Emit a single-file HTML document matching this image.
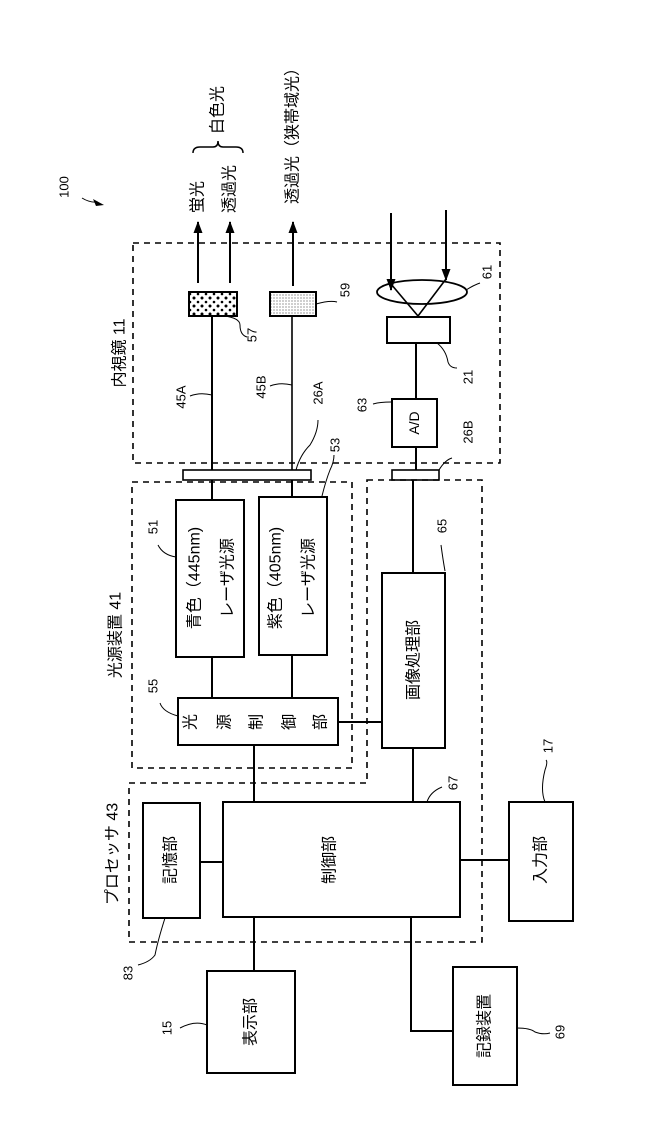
<!DOCTYPE html>
<html><head><meta charset="utf-8"><style>
html,body{margin:0;padding:0;background:#fff}
svg{display:block}
text{font-family:"Liberation Sans","Noto Sans CJK JP",sans-serif;fill:#000}
</style></head><body>
<svg width="661" height="1146" viewBox="0 0 661 1146" xmlns="http://www.w3.org/2000/svg">
<defs>
<marker id="ah" markerWidth="12" markerHeight="10" refX="11" refY="5" orient="auto" markerUnits="userSpaceOnUse" viewBox="0 0 12 10">
<path d="M0,0.5 L12,5 L0,9.5 Z" fill="#000"/></marker>
<pattern id="dots1" width="8" height="8" patternUnits="userSpaceOnUse"><circle cx="2" cy="2" r="1.5" fill="#000"/><circle cx="6" cy="6" r="1.3" fill="#000"/></pattern>
<pattern id="dots2" width="3" height="3" patternUnits="userSpaceOnUse"><circle cx="1" cy="1" r="0.5" fill="#000"/></pattern>
</defs>
<g fill="none" stroke="#000" stroke-width="2">
<rect x="133" y="243" width="367" height="220" stroke-dasharray="6,5" stroke-width="1.6"/>
<rect x="132" y="482" width="220" height="286" stroke-dasharray="6,5" stroke-width="1.6"/>
<path d="M367,480 L482,480 L482,942 L129,942 L129,783 L367,783 Z" stroke-dasharray="6,5" stroke-width="1.6"/>
<line x1="198" y1="283" x2="198" y2="222" marker-end="url(#ah)"/>
<line x1="230" y1="283" x2="230" y2="222" marker-end="url(#ah)"/>
<line x1="293" y1="286" x2="293" y2="222" marker-end="url(#ah)"/>
<line x1="391" y1="213" x2="391" y2="290" marker-end="url(#ah)"/>
<line x1="446" y1="210" x2="446" y2="280" marker-end="url(#ah)"/>
<line x1="391" y1="284" x2="418" y2="316" stroke-width="1.6"/>
<line x1="446" y1="279" x2="418" y2="316" stroke-width="1.6"/>
<ellipse cx="422" cy="292" rx="45" ry="12" stroke-width="1.8"/>
<rect x="189" y="292" width="48" height="24" fill="url(#dots1)"/>
<rect x="270" y="292" width="46" height="24" fill="url(#dots2)"/>
<rect x="387" y="317" width="63" height="26"/>
<line x1="416" y1="343" x2="416" y2="399"/>
<rect x="392" y="399" width="45" height="48"/>
<line x1="416" y1="447" x2="416" y2="470"/>
<rect x="392" y="470" width="47" height="10" stroke-width="1.6"/>
<rect x="183" y="470" width="128" height="10" stroke-width="1.6"/>
<line x1="212" y1="316" x2="212" y2="470"/>
<line x1="292" y1="316" x2="292" y2="470" stroke-width="1.6"/>
<line x1="212" y1="480" x2="212" y2="500"/>
<line x1="292" y1="480" x2="292" y2="497"/>
<rect x="176" y="500" width="68" height="157"/>
<rect x="259" y="497" width="68" height="158"/>
<line x1="212" y1="657" x2="212" y2="698"/>
<line x1="292" y1="655" x2="292" y2="698"/>
<rect x="178" y="698" width="160" height="47"/>
<line x1="338" y1="722" x2="382" y2="722"/>
<line x1="413" y1="480" x2="413" y2="573"/>
<rect x="382" y="573" width="63" height="175"/>
<line x1="413" y1="748" x2="413" y2="802"/>
<line x1="254" y1="745" x2="254" y2="802"/>
<rect x="223" y="802" width="237" height="115"/>
<rect x="143" y="803" width="57" height="115"/>
<line x1="200" y1="862" x2="223" y2="862"/>
<rect x="509" y="802" width="64" height="119"/>
<line x1="460" y1="860" x2="509" y2="860"/>
<line x1="254" y1="917" x2="254" y2="971"/>
<rect x="207" y="971" width="88" height="102"/>
<path d="M411,917 L411,1031 L453,1031"/>
<rect x="453" y="967" width="64" height="118"/>
<path d="M193,153 Q193,147 200,147 L213,147 Q218,147 218,141 Q218,147 223,147 L236,147 Q243,147 243,153" stroke-width="1.5"/>
<g stroke-width="1">
<path d="M82,198 Q90,203 98,202"/>
<path d="M190,396 Q200,392 212,395"/>
<path d="M270,386 Q280,382 292,385"/>
<path d="M296,470 Q300,455 310,445 Q318,432 318,420"/>
<path d="M322,496 Q326,480 330,470 Q334,462 334,455"/>
<path d="M224,316 Q240,318 240,325 Q240,335 247,337"/>
<path d="M316,304 Q330,300 337,302"/>
<path d="M466,290 Q474,285 480,283"/>
<path d="M437,343 Q446,350 448,362 Q450,368 457,368"/>
<path d="M391,402 Q380,402 373,404"/>
<path d="M439,470 Q445,460 452,458"/>
<path d="M176,557 Q163,555 158,545"/>
<path d="M178,716 Q163,712 160,703"/>
<path d="M445,571 Q443,560 441,545"/>
<path d="M427,802 Q430,792 442,787"/>
<path d="M545,802 Q540,790 545,770 Q548,762 546,760"/>
<path d="M165,918 Q158,940 155,955 Q150,962 138,965"/>
<path d="M207,1025 Q195,1020 180,1028"/>
<path d="M517,1028 Q530,1028 535,1032 Q543,1035 550,1033"/>
</g>
</g>
<path d="M93,199 L104,205 L96,206 Z" fill="#000"/>
<g font-size="13">
<text transform="translate(64,187) rotate(-90)" text-anchor="middle" dominant-baseline="central">100</text>
<text transform="translate(181,397) rotate(-90)" text-anchor="middle" dominant-baseline="central">45A</text>
<text transform="translate(261,387) rotate(-90)" text-anchor="middle" dominant-baseline="central">45B</text>
<text transform="translate(318,393) rotate(-90)" text-anchor="middle" dominant-baseline="central">26A</text>
<text transform="translate(335,445) rotate(-90)" text-anchor="middle" dominant-baseline="central">53</text>
<text transform="translate(252,335) rotate(-90)" text-anchor="middle" dominant-baseline="central">57</text>
<text transform="translate(345,290) rotate(-90)" text-anchor="middle" dominant-baseline="central">59</text>
<text transform="translate(487,272) rotate(-90)" text-anchor="middle" dominant-baseline="central">61</text>
<text transform="translate(468,377) rotate(-90)" text-anchor="middle" dominant-baseline="central">21</text>
<text transform="translate(362,405) rotate(-90)" text-anchor="middle" dominant-baseline="central">63</text>
<text transform="translate(414,423) rotate(-90)" text-anchor="middle" dominant-baseline="central" font-size="14">A/D</text>
<text transform="translate(468,432) rotate(-90)" text-anchor="middle" dominant-baseline="central">26B</text>
<text transform="translate(153,527) rotate(-90)" text-anchor="middle" dominant-baseline="central">51</text>
<text transform="translate(153,686) rotate(-90)" text-anchor="middle" dominant-baseline="central">55</text>
<text transform="translate(442,526) rotate(-90)" text-anchor="middle" dominant-baseline="central">65</text>
<text transform="translate(453,783) rotate(-90)" text-anchor="middle" dominant-baseline="central">67</text>
<text transform="translate(548,746) rotate(-90)" text-anchor="middle" dominant-baseline="central">17</text>
<text transform="translate(128,973) rotate(-90)" text-anchor="middle" dominant-baseline="central">83</text>
<text transform="translate(167,1028) rotate(-90)" text-anchor="middle" dominant-baseline="central">15</text>
<text transform="translate(560,1032) rotate(-90)" text-anchor="middle" dominant-baseline="central">69</text>
</g>
<g font-size="16">
<text transform="translate(120,353) rotate(-90)" text-anchor="middle" dominant-baseline="central">内視鏡 11</text>
<text transform="translate(198,197) rotate(-90)" text-anchor="middle" dominant-baseline="central">蛍光</text>
<text transform="translate(230,189) rotate(-90)" text-anchor="middle" dominant-baseline="central">透過光</text>
<text transform="translate(218,110) rotate(-90)" text-anchor="middle" dominant-baseline="central">白色光</text>
<text transform="translate(293,132) rotate(-90)" text-anchor="middle" dominant-baseline="central">透過光（狭帯域光）</text>
<text transform="translate(116,635) rotate(-90)" text-anchor="middle" dominant-baseline="central">光源装置 41</text>
<text transform="translate(195,578) rotate(-90)" text-anchor="middle" dominant-baseline="central">青色（445nm)</text>
<text transform="translate(228,578) rotate(-90)" text-anchor="middle" dominant-baseline="central">レーザ光源</text>
<text transform="translate(276,578) rotate(-90)" text-anchor="middle" dominant-baseline="central">紫色（405nm)</text>
<text transform="translate(309,578) rotate(-90)" text-anchor="middle" dominant-baseline="central">レーザ光源</text>
<text transform="translate(191,722) rotate(-90)" text-anchor="middle" dominant-baseline="central">光</text>
<text transform="translate(225,722) rotate(-90)" text-anchor="middle" dominant-baseline="central">源</text>
<text transform="translate(257,722) rotate(-90)" text-anchor="middle" dominant-baseline="central">制</text>
<text transform="translate(290,722) rotate(-90)" text-anchor="middle" dominant-baseline="central">御</text>
<text transform="translate(321,722) rotate(-90)" text-anchor="middle" dominant-baseline="central">部</text>
<text transform="translate(414,660) rotate(-90)" text-anchor="middle" dominant-baseline="central">画像処理部</text>
<text transform="translate(113,854) rotate(-90)" text-anchor="middle" dominant-baseline="central">プロセッサ 43</text>
<text transform="translate(171,860) rotate(-90)" text-anchor="middle" dominant-baseline="central">記憶部</text>
<text transform="translate(330,860) rotate(-90)" text-anchor="middle" dominant-baseline="central">制御部</text>
<text transform="translate(541,860) rotate(-90)" text-anchor="middle" dominant-baseline="central">入力部</text>
<text transform="translate(251,1022) rotate(-90)" text-anchor="middle" dominant-baseline="central">表示部</text>
<text transform="translate(485,1026) rotate(-90)" text-anchor="middle" dominant-baseline="central">記録装置</text>
</g>
</svg>
</body></html>
